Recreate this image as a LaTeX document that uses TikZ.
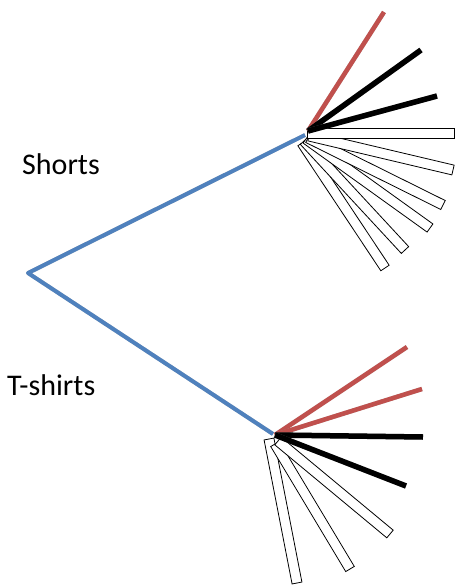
\documentclass[tikz,border=0pt]{standalone}
\usetikzlibrary{calc}
\usepackage{fontspec}
\setmainfont{Carlito}
\definecolor{treeblue}{RGB}{79,129,189}
\definecolor{treered}{RGB}{192,80,77}
\tikzset{
  shadowline/.style={draw=black!40,opacity=0.6,shift={(1.8,1.8)}},
  blueline/.style={draw=treeblue,line width=4pt},
  redline/.style={draw=treered,line width=4.5pt},
  blackline/.style={draw=black,line width=5.5pt},
  barbox/.style={draw=black,fill=white,line width=0.8pt,line join=miter},
  label/.style={font=\fontsize{30}{35}\selectfont,anchor=base west,inner sep=0pt}
}
\newcommand\fanbar[2]{%
  \draw[barbox] ($(#1)!5pt!90:(#2)$) -- ($(#1)!5pt!-90:(#2)$)
     -- ($(#2)!5pt!90:(#1)$) -- ($(#2)!5pt!-90:(#1)$) -- cycle;}
\newcommand\fanline[3]{%
  \draw[#1,shadowline] (#2) -- (#3);
  \draw[#1] (#2) -- (#3);}
\begin{document}
\begin{tikzpicture}[x=1pt,y=-1pt]
\useasboundingbox (0,0) rectangle (455,587);
% main nodes
\coordinate (root) at (28,273);
\coordinate (up) at (305,135);
\coordinate (lo) at (273,434);
% labels
\node[label] (shorts) at (22,174) {Shorts};
\node[label] (tshirts) at (7,395) {T-shirts};
% upper fan bars
\coordinate (us1) at (307,133); \coordinate (ue1) at (454,133);
\coordinate (us2) at (309,136); \coordinate (ue2) at (453,170);
\coordinate (us3) at (308,138); \coordinate (ue3) at (443,205);
\coordinate (us4) at (306,139); \coordinate (ue4) at (430,228);
\coordinate (us5) at (304,141); \coordinate (ue5) at (405,250);
\coordinate (us6) at (302,143); \coordinate (ue6) at (385,268);
\fanbar{us6}{ue6}
\fanbar{us5}{ue5}
\fanbar{us4}{ue4}
\fanbar{us3}{ue3}
\fanbar{us2}{ue2}
\fanbar{us1}{ue1}
% lower fan bars
\coordinate (ls1) at (278,441); \coordinate (le1) at (390,534);
\coordinate (ls2) at (275,444); \coordinate (le2) at (350,569);
\coordinate (ls3) at (269,439); \coordinate (le3) at (297,583);
\fanbar{ls3}{le3}
\fanbar{ls2}{le2}
\fanbar{ls1}{le1}
% blue trunk
\draw[blueline,shadowline,line join=round] (up) -- (root) -- (lo);
\draw[blueline,line join=round] (up) -- (root) -- (lo);
% upper fan lines
\coordinate (up0) at (308,131);
\coordinate (ur1) at (384,12);
\coordinate (uk1) at (421,50);
\coordinate (uk2) at (437,96);
\fanline{redline}{up0}{ur1}
\fanline{blackline}{up0}{uk1}
\fanline{blackline}{up0}{uk2}
% lower fan lines
\coordinate (lo0) at (275,435);
\coordinate (lr1) at (407,347);
\coordinate (lr2) at (422,389);
\coordinate (lk1) at (423,437);
\coordinate (lk2) at (406,486);
\fanline{redline}{lo0}{lr1}
\fanline{redline}{lo0}{lr2}
\fanline{blackline}{lo0}{lk1}
\fanline{blackline}{lo0}{lk2}
\end{tikzpicture}
\end{document}
